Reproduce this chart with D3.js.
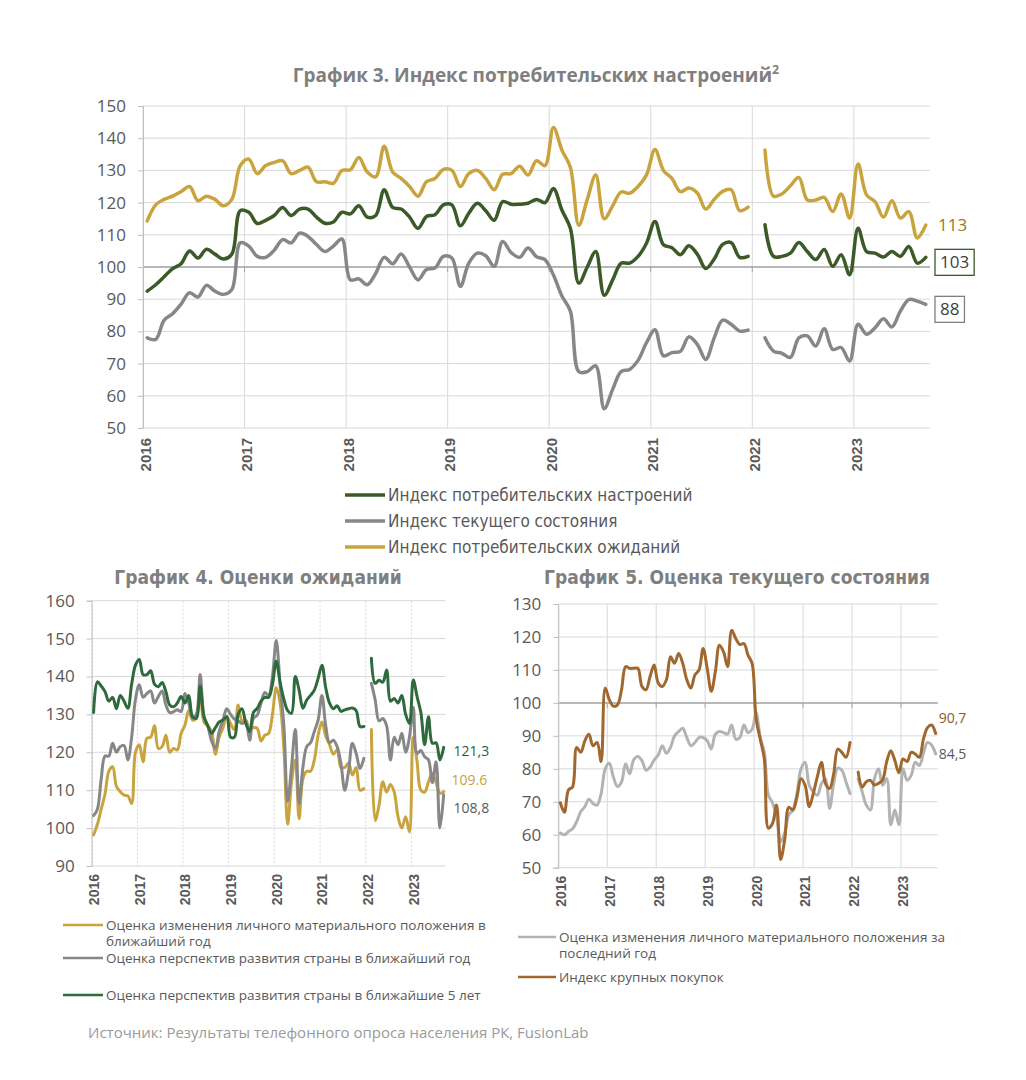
<!DOCTYPE html>
<html>
<head>
<meta charset="utf-8">
<script src="https://cdn.jsdelivr.net/npm/d3@7"></script>
<style>
  body { margin: 0; background: #fff; }
  svg { display: block; }
  text { font-family: Lato, "Open Sans", sans-serif; }
</style>
</head>
<body>
<svg id="chart" width="1026" height="1080"></svg>
<script>
// months since Jan 2016, Jan 2022 is missing (null)
const years = ["2016", "2017", "2018", "2019", "2020", "2021", "2022", "2023"];

// График 3
const sentiment = [92.5,94.5,97,99.5,101,105,102.8,105.5,104,102.5,104,117.5,117,113.5,114.5,116,118.5,116,118,118,115.5,113.6,114,117,116.5,119,115.5,116,124,118.5,118,115.5,112,115.7,116.2,119.3,119.3,112.8,116.7,119.8,117.5,114.5,120.3,119.5,119.5,119.8,121,120,124.4,117.7,112,95,100,104.8,91.2,96,101.2,101.2,103.3,107.4,114.1,106.9,106,103.8,106.6,104,99.5,102.5,107,107.6,103,103.3,null,113.1,103.3,103.3,104.3,107.6,104.8,102.3,105.4,100.2,103.8,97.6,112,104.8,104.3,103.1,104.8,103.3,106.4,101.2,103];
const current = [78,77.5,83.5,85.5,88.5,92,90.7,94.3,92.5,91.5,93,107.5,106.5,103.3,103,105.2,108.5,107.5,110.5,109.5,107,104.8,106.5,108.7,96,96.3,94.5,98,103,101,104,100,96,99.2,99.7,103.3,102.8,94,101.2,104.3,103.5,100.2,107.9,104.5,103,105.9,103.2,102.3,97.5,91,86.3,67.5,67.5,69.3,56,62,67.5,68.2,71,76.5,80.5,72.4,73.4,73.8,78.3,76,71.3,78,83.5,82.2,80.1,80.4,null,78,73.9,73.2,71.9,78,78.6,75.5,80.8,74.4,75,70.8,82.2,79.1,81.1,83.9,81.4,86.3,89.9,89.4,88.4];
const expectations = [114.3,119.3,121,122,123.4,125,120.6,122,121,119,121,131.5,133.5,129,131.5,132.5,133,129,130,131,126.5,126.5,126,130,130.2,134,129.5,128,137.5,129.5,127.5,125,122,126.5,127.5,130.3,130,125,129,130,127.5,124,128.8,129,131.3,128.6,133,131.5,143.3,136.3,131,113,121,128.6,115,119,123.3,122.9,125,128.6,136.5,130,127.5,123.4,124.5,123,118,121,123.5,124,117.5,118.6,null,136.3,122,122.7,125.2,127.8,120.8,120.8,121.6,117.2,122.7,115.2,132,122.4,120.3,115.5,120.6,115.2,117.2,109,113];

// График 4
const personalNextYear = [98.2,101,105,109,115,116.2,111,109.6,108.7,108.5,106.5,120,122,117.5,123.7,124,127,121,121.5,124.5,120,121,120.6,125,127.2,131,128.5,129,135.5,128,127,125.5,119.5,124,126.5,129.5,127.5,126,132.5,128.3,128.5,126,126.5,126.3,123,124.5,125,130,137,133,121,101,112,118,102.5,113,115,115,118,124.5,128,124.3,122,119.5,120.6,116,116,117.2,114,116,110,110.4,null,126,102,106,112.2,109.5,111.5,109.5,103,100,103,99,124,117.5,110,109.5,112.2,114.5,112,109.2,109.6];
const countryNextYear = [103.3,105,113,119,119,122.4,120,121.5,121.8,118,124,134,137.8,134.5,135.5,136.2,133,134.7,136.2,132.5,130.5,130.7,131.2,130.8,135.5,133,129,130,140.5,129.5,127,123,121,125.5,128.5,131.5,130,128.8,128.3,127.6,128,123.2,129,129.8,133,135.8,135,140,149.5,138,127,107,116,126,106.5,116,121.5,122.5,125.5,128.5,135,127,122.5,123.2,121.5,117,110,115,122.4,119.7,115.7,118.4,null,138.2,133.8,128.3,128.9,127,118,124,122,125,120,124,131.9,119.7,120.5,118.8,118,112,117.5,100,108.8];
const countryFiveYears = [130.5,138.6,137.5,136,133.5,134.5,131.5,135,133.5,131.6,138,143,144.5,140.5,140.5,141.5,138,137.3,138.4,136,132.5,132,133,134.7,133,135,129.4,129,137.5,129.4,127,125,126.5,128,128.5,129.4,124,124,130,131.5,127.6,125.5,130.5,131.6,133.5,134.5,134.5,138,144,138.5,134,131,130.3,140,136.4,131.6,133.8,135,136.4,139.5,143,137,133,131.5,132.3,130.8,131.2,131.5,131.7,131,126.8,126.8,null,144.8,138.2,139,138.5,141.7,133.5,134.2,133,135,130,127.6,139.1,134.7,130.5,122,129.4,122.4,122.5,118,121.3];

// График 5
const personalLastYear = [60.5,60,61,61.8,64,67,68.5,70.8,69.5,69,72.5,80,81.7,77.5,74.6,76,81.5,78.5,82.8,83.7,82.5,79.6,80.5,82.7,84.2,87,84.7,86.5,90,91.3,92.3,89.5,87,88,89.5,89.5,88.5,86,90.5,91.3,91,90.5,93.3,89,89.5,93.3,91,92,97,89.5,85,72,69.7,65.5,57.8,60.5,66,67.5,72.5,80,82,75,73,72,75.5,77,68,75.5,80.2,79.6,76.1,72.5,null,77,73,69,67.5,77,80,75,77,63,67.5,63,80,76.5,78,82,81,84.7,88,87.2,84.5];
const bigPurchases = [69.7,66.8,73.6,74.5,86.5,85,88.5,90.5,87,88,82.2,104.5,101,99,99.4,104,111,110.5,110.5,110.5,105,104,108,111.5,106,105,107,114,112,115,112,107,104.5,108.5,110,116.5,110.5,103.5,109.5,117.5,115.5,111,122,119.5,117.7,118,114.5,112,95,89,83,62,63.4,69,52.5,58.5,68.3,67.5,71.5,77,75,68.5,72.5,77.6,82,75.5,74,78.5,86,85,83.5,88,null,79,74.5,76.1,76.5,75.1,75.6,76.6,82.2,85.5,82.5,78.8,83,82.2,85,84.5,83.5,89,92.5,93.3,90.7];

const nMonths = 93;
const yearTicks = years.map((d, i) => i * 12);

const svg = d3.select("#chart");

function drawPanel(o) {
  const x = d3.scaleLinear().domain([0, nMonths]).range([o.left, o.right]);
  const y = d3.scaleLinear().domain(o.yDomain).range([o.bottom, o.top]);
  const g = svg.append("g");
  const yt = d3.range(o.yDomain[0], o.yDomain[1] + 1, 10);

  g.selectAll(".hgrid").data(yt).enter().append("line")
    .attr("x1", o.left).attr("x2", o.right)
    .attr("y1", d => y(d)).attr("y2", d => y(d))
    .attr("stroke", "#d9d9d9").attr("stroke-width", 1);

  g.selectAll(".vgrid").data(yearTicks).enter().append("line")
    .attr("x1", d => x(d)).attr("x2", d => x(d))
    .attr("y1", o.top).attr("y2", o.bottom)
    .attr("stroke", "#d9d9d9").attr("stroke-width", 1)
    .attr("stroke-dasharray", o.dotted ? "2,2" : null);

  // axis crossing at 100
  if (o.base100) {
    g.append("line")
      .attr("x1", o.left).attr("x2", o.right)
      .attr("y1", y(100)).attr("y2", y(100))
      .attr("stroke", "#a6a6a6").attr("stroke-width", 1.5);
    g.selectAll(".tk").data(yearTicks.slice(1)).enter().append("line")
      .attr("x1", d => x(d)).attr("x2", d => x(d))
      .attr("y1", y(100)).attr("y2", y(100) + 5)
      .attr("stroke", "#a6a6a6");
  }

  const ya = g.append("g")
    .attr("transform", "translate(" + o.left + ",0)")
    .call(d3.axisLeft(y).tickValues(yt).tickSize(5).tickPadding(o.ypad));
  ya.selectAll("path, line").attr("stroke", "#bfbfbf");
  ya.selectAll("text").attr("font-size", o.yfont).attr("fill", "#595959")
    .style("font-family", "'Open Sans', sans-serif");

  const xa = g.append("g")
    .attr("transform", "translate(0," + o.bottom + ")")
    .call(d3.axisBottom(x).tickValues(yearTicks).tickFormat((d, i) => years[i]).tickSize(0));
  xa.select(".domain").remove();
  xa.selectAll("text")
    .attr("transform", "rotate(-90)")
    .attr("text-anchor", "end")
    .attr("x", -o.xgap).attr("y", 2).attr("dy", "0.35em")
    .attr("font-size", o.xfont).attr("font-weight", "bold").attr("fill", "#595959")
    .style("font-family", "'Liberation Sans', Arial, sans-serif");

  const line = d3.line()
    .defined(d => d[1] != null)
    .x(d => x(d[0] + 0.5))
    .y(d => y(d[1]))
    .curve(d3.curveCatmullRom.alpha(0.5));

  o.series.forEach(s => {
    g.append("path")
      .datum(s.values.map((v, i) => [i, v]))
      .attr("d", line)
      .attr("fill", "none")
      .attr("stroke", s.color)
      .attr("stroke-width", o.lw)
      .attr("stroke-linejoin", "round")
      .attr("stroke-linecap", "round");
  });

  // end labels
  o.series.forEach(s => {
    if (!s.label) return;
    const last = s.values[s.values.length - 1];
    const ly = y(last) + s.label.dy;
    const t = g.append("text")
      .attr("x", o.right + s.label.dx)
      .attr("y", ly)
      .attr("dy", "0.35em")
      .attr("font-size", o.lfont)
      .attr("fill", s.label.color)
      .style("font-family", "'Open Sans', sans-serif")
      .text(s.label.text);
    if (s.label.box) {
      const b = t.node().getBBox();
      g.append("rect")
        .attr("x", b.x - 5).attr("y", ly - 13)
        .attr("width", b.width + 10).attr("height", 26)
        .attr("fill", "#fff").attr("stroke", s.label.box).attr("stroke-width", 1.3);
      t.raise();
    }
  });

  g.append("text")
    .attr("x", o.titleX).attr("y", o.titleY)
    .attr("text-anchor", "middle")
    .attr("font-size", o.tfont).attr("font-weight", "bold").attr("fill", "#7f7f7f")
    .style("font-family", o.tfamily)
    .text(o.title)
    .call(t => { if (o.sup) t.append("tspan").attr("baseline-shift", "super").attr("font-size", o.tfont * 0.65).text(o.sup); });

  // legend
  o.legend.forEach(l => {
    g.append("line")
      .attr("x1", l.x).attr("x2", l.x + l.w)
      .attr("y1", l.y).attr("y2", l.y)
      .attr("stroke", l.color).attr("stroke-width", l.sw);
    l.lines.forEach((s, k) => g.append("text")
      .attr("x", l.x + l.w + 3).attr("y", l.y + k * 16.5)
      .attr("dy", "0.35em")
      .attr("font-size", l.font).attr("fill", "#595959")
      .style("font-family", l.family || "'Open Sans', sans-serif")
      .text(s));
  });
}

const cGreen = "#3b5a27", cGray = "#878787", cGold = "#c9a43e";

drawPanel({
  left: 143, right: 930, top: 106, bottom: 428, yDomain: [50, 150], base100: true,
  ypad: 12, yfont: 17, xfont: 15, xgap: 10, lw: 3.5, lfont: 17,
  title: "График 3. Индекс потребительских настроений", sup: "2",
  titleX: 536, titleY: 82, tfont: 19, tfamily: "'Open Sans', sans-serif",
  series: [
    { values: expectations, color: cGold, label: { text: "113", dx: 8, dy: 0, color: "#9a7a22" } },
    { values: current, color: cGray, label: { text: "88", dx: 10, dy: 5, color: "#404040", box: "#7f7f7f" } },
    { values: sentiment, color: cGreen, label: { text: "103", dx: 10, dy: 5, color: "#404040", box: cGreen } }
  ],
  legend: [
    { x: 345, y: 495, w: 40, sw: 3.5, color: cGreen, font: 17, family: "'Liberation Sans Narrow', 'DejaVu Sans Condensed', sans-serif", lines: ["Индекс потребительских настроений"] },
    { x: 345, y: 521, w: 40, sw: 3.5, color: cGray, font: 17, family: "'Liberation Sans Narrow', 'DejaVu Sans Condensed', sans-serif", lines: ["Индекс текущего состояния"] },
    { x: 345, y: 547, w: 40, sw: 3.5, color: cGold, font: 17, family: "'Liberation Sans Narrow', 'DejaVu Sans Condensed', sans-serif", lines: ["Индекс потребительских ожиданий"] }
  ]
});

const c4Green = "#2f6a3c";
drawPanel({
  left: 91.7, right: 445.6, top: 600.7, bottom: 866, yDomain: [90, 160], base100: false,
  ypad: 12, yfont: 17, xfont: 14, xgap: 8, lw: 3, lfont: 14, dotted: true,
  title: "График 4. Оценки ожиданий", titleX: 258, titleY: 584, tfont: 19,
  tfamily: "'Liberation Sans Narrow', 'DejaVu Sans Condensed', sans-serif",
  series: [
    { values: personalNextYear, color: cGold, label: { text: "109.6", dx: 6, dy: -12, color: "#c9a43e" } },
    { values: countryNextYear, color: cGray, label: { text: "108,8", dx: 8, dy: 13, color: "#595959" } },
    { values: countryFiveYears, color: c4Green, label: { text: "121,3", dx: 8, dy: 4, color: "#2f5a3a" } }
  ],
  legend: [
    { x: 63, y: 925, w: 40, sw: 2.5, color: cGold, font: 13.5, lines: ["Оценка изменения личного материального положения в", "ближайший год"] },
    { x: 63, y: 958, w: 40, sw: 2.5, color: cGray, font: 13.5, lines: ["Оценка перспектив развития страны в ближайший год"] },
    { x: 63, y: 995, w: 40, sw: 2.5, color: c4Green, font: 13.5, lines: ["Оценка перспектив развития страны в ближайшие 5 лет"] }
  ]
});

const cBrown = "#a0672f", cLight = "#b3b3b3";
drawPanel({
  left: 558.3, right: 937.7, top: 604, bottom: 867.7, yDomain: [50, 130], base100: true,
  ypad: 12, yfont: 17, xfont: 14, xgap: 8, lw: 3, lfont: 14,
  title: "График 5. Оценка текущего состояния", titleX: 737, titleY: 584, tfont: 19,
  tfamily: "'Liberation Sans Narrow', 'DejaVu Sans Condensed', sans-serif",
  series: [
    { values: personalLastYear, color: cLight, label: { text: "84,5", dx: 1, dy: 0, color: "#595959" } },
    { values: bigPurchases, color: cBrown, label: { text: "90,7", dx: 1, dy: -15, color: "#8a5a2a" } }
  ],
  legend: [
    { x: 518, y: 937, w: 38, sw: 2.5, color: cLight, font: 13.5, lines: ["Оценка изменения личного материального положения за", "последний год"] },
    { x: 518, y: 977, w: 38, sw: 2.5, color: cBrown, font: 13.5, lines: ["Индекс крупных покупок"] }
  ]
});

svg.append("text")
  .attr("x", 88).attr("y", 1038)
  .attr("font-size", 15).attr("fill", "#9a9a9a")
  .style("font-family", "'Open Sans', sans-serif")
  .text("Источник: Результаты телефонного опроса населения РК, FusionLab");
</script>
</body>
</html>
